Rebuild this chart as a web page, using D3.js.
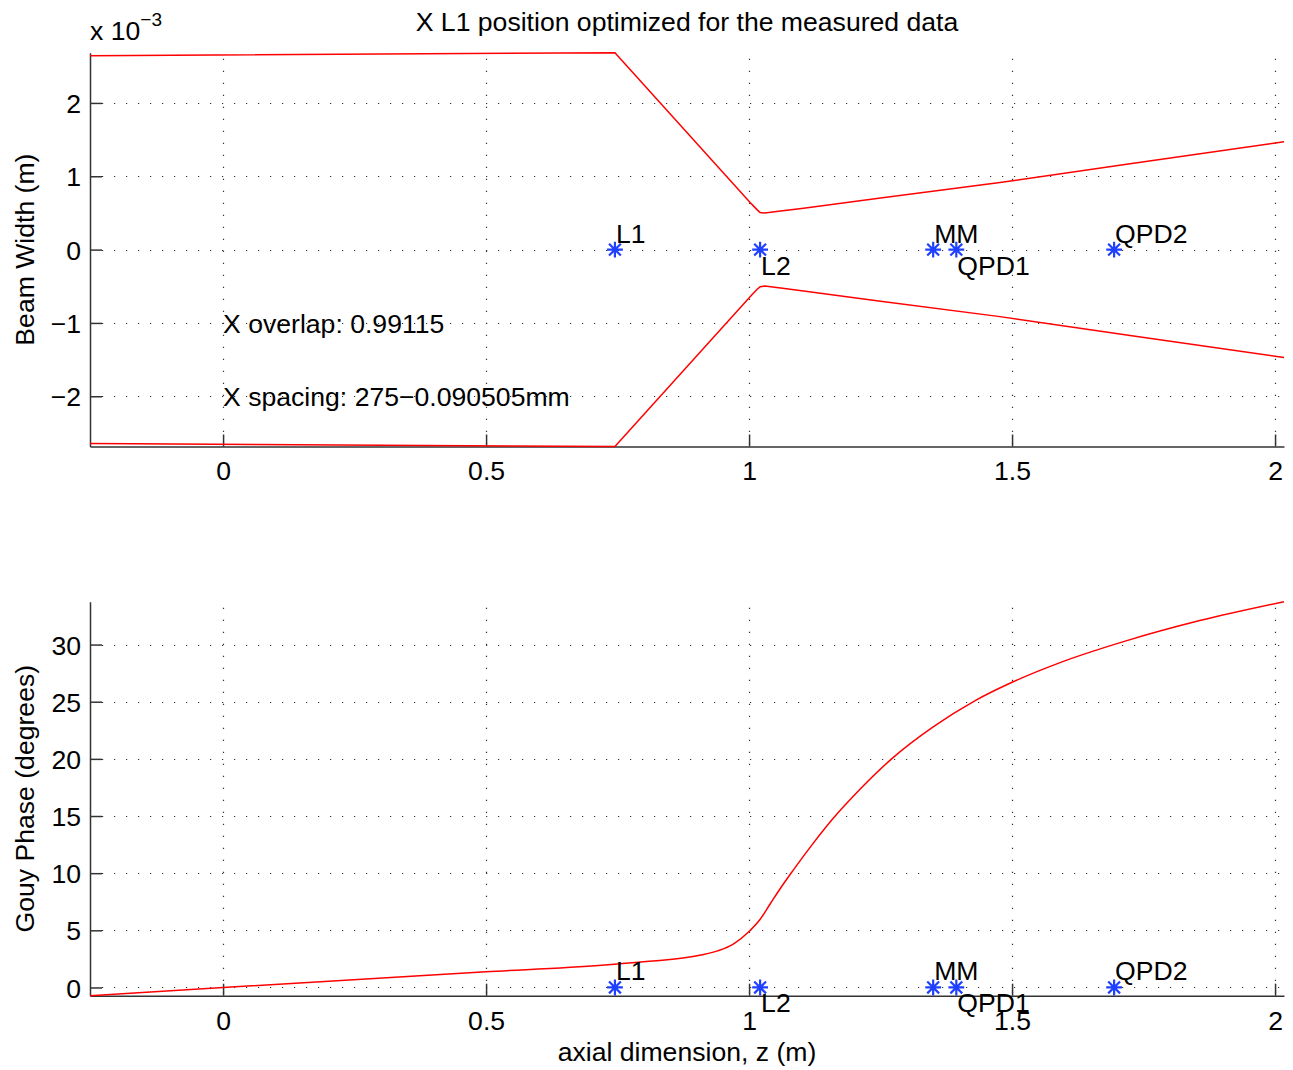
<!DOCTYPE html>
<html>
<head>
<meta charset="utf-8">
<script src="https://cdnjs.cloudflare.com/ajax/libs/d3/7.8.5/d3.min.js"></script>
<style>
  body { margin: 0; background: #fff; }
  svg { display: block; font-family: "Liberation Sans", Arial, Helvetica, sans-serif; }
  .grid line { stroke: #333; stroke-width: 1.2; stroke-dasharray: 1.2 10.8; }
</style>
</head>
<body>
<div id="chart"></div>
<script>

// beam width along z, in units of 1e-3 m (upper envelope, lower one is its mirror)
var zWidth    = [-0.253, 0.745, 1.005, 1.015, 1.021, 1.030, 1.060, 1.100, 1.250, 1.477, 1.731, 2.017];
var beamWidth = [ 2.645, 2.685, 0.620, 0.545, 0.505, 0.498, 0.525, 0.560, 0.705, 0.914, 1.179, 1.470];

// gouy phase along z, degrees
var zGouy = [-0.253, 0, 0.5, 0.72, 0.80, 0.89, 0.94, 0.97, 1.00, 1.02, 1.04, 1.06, 1.083, 1.12,
             1.16, 1.21, 1.271, 1.35, 1.43, 1.50, 1.59, 1.715, 1.857, 2.017];
var gouyPhase = [-0.72, 0, 1.37, 1.95, 2.25, 2.68, 3.2, 3.8, 4.9, 5.9, 7.3, 8.7, 10.2, 12.5,
                 14.8, 17.3, 20.0, 22.8, 25.1, 26.7, 28.4, 30.3, 32.1, 33.75];

// optical components
var compNames = ["L1", "L2", "MM", "QPD1", "QPD2"];
var compZ     = [0.745, 1.021, 1.350, 1.394, 1.694];

var xTicks = [0, 0.5, 1, 1.5, 2];
var yTicksWidth = [-2, -1, 0, 1, 2];
var yTicksGouy = [0, 5, 10, 15, 20, 25, 30];

var overlapText = "X overlap: 0.99115";
var spacingText = "X spacing: 275\u22120.090505mm";

var W = 1293, H = 1070;
var left = 90, right = 1284;
var fontSize = 26.6;

var svg = d3.select("#chart")
    .append("svg")
    .attr("width", W)
    .attr("height", H);

var x = d3.scaleLinear()
    .domain(d3.extent(zWidth))
    .range([left, right]);

var widthData = zWidth.map(function(z, i) { return {z: z, w: beamWidth[i]}; });
var gouyData = zGouy.map(function(z, i) { return {z: z, g: gouyPhase[i]}; });
var comps = compNames.map(function(n, i) { return {name: n, z: compZ[i], i: i}; });

// matlab style '*' marker
var asterisk = {
    draw: function(ctx, size) {
        var r = Math.sqrt(size) / 2, d = r * 0.75;
        ctx.moveTo(0, -r); ctx.lineTo(0, r);
        ctx.moveTo(-r, 0); ctx.lineTo(r, 0);
        ctx.moveTo(-d, -d); ctx.lineTo(d, d);
        ctx.moveTo(-d, d); ctx.lineTo(d, -d);
    }
};

function drawPanel(top, bottom, y, yTicks) {
    var g = svg.append("g");

    // grid
    var grid = g.append("g").attr("class", "grid");
    grid.selectAll(".gx")
        .data(xTicks)
        .enter().append("line")
        .attr("x1", function(d) { return Math.round(x(d)) + 0.5; })
        .attr("x2", function(d) { return Math.round(x(d)) + 0.5; })
        .attr("y1", top + 6)
        .attr("y2", bottom);
    grid.selectAll(".gy")
        .data(yTicks)
        .enter().append("line")
        .attr("x1", left + 12)
        .attr("x2", right)
        .attr("y1", function(d) { return Math.round(y(d)) + 0.5; })
        .attr("y2", function(d) { return Math.round(y(d)) + 0.5; });

    // axes, ticks pointing inside
    var ax = g.append("g")
        .attr("transform", "translate(0," + bottom + ")")
        .call(d3.axisBottom(x).tickValues(xTicks).tickFormat(d3.format("")).tickSizeInner(-12).tickSizeOuter(0).tickPadding(15));
    var ay = g.append("g")
        .attr("transform", "translate(" + left + ",0)")
        .call(d3.axisLeft(y).tickValues(yTicks).tickFormat(d3.format("")).tickSizeInner(-12).tickSizeOuter(0).tickPadding(9));

    [ax, ay].forEach(function(a) {
        a.attr("font-family", null).attr("font-size", fontSize);
        a.selectAll("path, line").attr("stroke", "#333").attr("stroke-width", 1.5);
        a.selectAll("text").attr("fill", "#000");
    });
    ay.selectAll("text").attr("dy", "0.36em");

    return g;
}

function drawComponents(g, y) {
    g.selectAll(".star")
        .data(comps)
        .enter().append("path")
        .attr("transform", function(d) { return "translate(" + x(d.z) + "," + y(0) + ")"; })
        .attr("d", d3.symbol().type(asterisk).size(250))
        .attr("fill", "none")
        .attr("stroke", "#2040ff")
        .attr("stroke-width", 2.2);

    g.selectAll(".clabel")
        .data(comps)
        .enter().append("text")
        .attr("x", function(d) { return x(d.z) + 1; })
        .attr("y", function(d) { return y(0) + (d.i % 2 == 0 ? -7 : 25); })
        .style("font-size", fontSize + "px")
        .text(function(d) { return d.name; });
}

//#region top panel: beam width
var top1 = 52.7, bottom1 = 446.5;
var yW = d3.scaleLinear()
    .domain([-d3.max(beamWidth), d3.max(beamWidth)])
    .range([bottom1, top1]);

var p1 = drawPanel(top1, bottom1, yW, yTicksWidth);

var widthLine = d3.line()
    .x(function(d) { return x(d.z); })
    .y(function(d) { return yW(d.w); });

p1.append("path")
    .datum(widthData)
    .attr("d", widthLine)
    .attr("fill", "none")
    .attr("stroke", "#ff0000")
    .attr("stroke-width", 1.5);

p1.append("path")
    .datum(widthData.map(function(d) { return {z: d.z, w: -d.w}; }))
    .attr("d", widthLine)
    .attr("fill", "none")
    .attr("stroke", "#ff0000")
    .attr("stroke-width", 1.5);

drawComponents(p1, yW);

p1.append("text")
    .attr("x", x(0))
    .attr("y", yW(-1))
    .attr("dy", "0.36em")
    .style("font-size", fontSize + "px")
    .text(overlapText);

p1.append("text")
    .attr("x", x(0))
    .attr("y", yW(-2))
    .attr("dy", "0.36em")
    .style("font-size", fontSize + "px")
    .text(spacingText);

// exponent label
var expo = p1.append("text")
    .attr("x", left)
    .attr("y", 40)
    .style("font-size", fontSize + "px");
expo.append("tspan").text("x 10");
expo.append("tspan").attr("dy", -14).style("font-size", "19px").text("\u22123");

svg.append("text")
    .attr("x", (left + right) / 2)
    .attr("y", 31)
    .attr("text-anchor", "middle")
    .style("font-size", fontSize + "px")
    .text("X L1 position optimized for the measured data");

svg.append("text")
    .attr("transform", "translate(33.5," + (top1 + bottom1) / 2 + ") rotate(-90)")
    .attr("text-anchor", "middle")
    .style("font-size", fontSize + "px")
    .text("Beam Width (m)");
//#endregion

//#region bottom panel: gouy phase
var top2 = 601.7, bottom2 = 995.7;
var yG = d3.scaleLinear()
    .domain(d3.extent(gouyPhase))
    .range([bottom2, top2]);

var p2 = drawPanel(top2, bottom2, yG, yTicksGouy);

p2.append("path")
    .datum(gouyData)
    .attr("d", d3.line()
        .curve(d3.curveMonotoneX)
        .x(function(d) { return x(d.z); })
        .y(function(d) { return yG(d.g); }))
    .attr("fill", "none")
    .attr("stroke", "#ff0000")
    .attr("stroke-width", 1.5);

drawComponents(p2, yG);

svg.append("text")
    .attr("transform", "translate(33.5," + (top2 + bottom2) / 2 + ") rotate(-90)")
    .attr("text-anchor", "middle")
    .style("font-size", fontSize + "px")
    .text("Gouy Phase (degrees)");

svg.append("text")
    .attr("x", (left + right) / 2)
    .attr("y", 1061)
    .attr("text-anchor", "middle")
    .style("font-size", fontSize + "px")
    .text("axial dimension, z (m)");
//#endregion

</script>
</body>
</html>
